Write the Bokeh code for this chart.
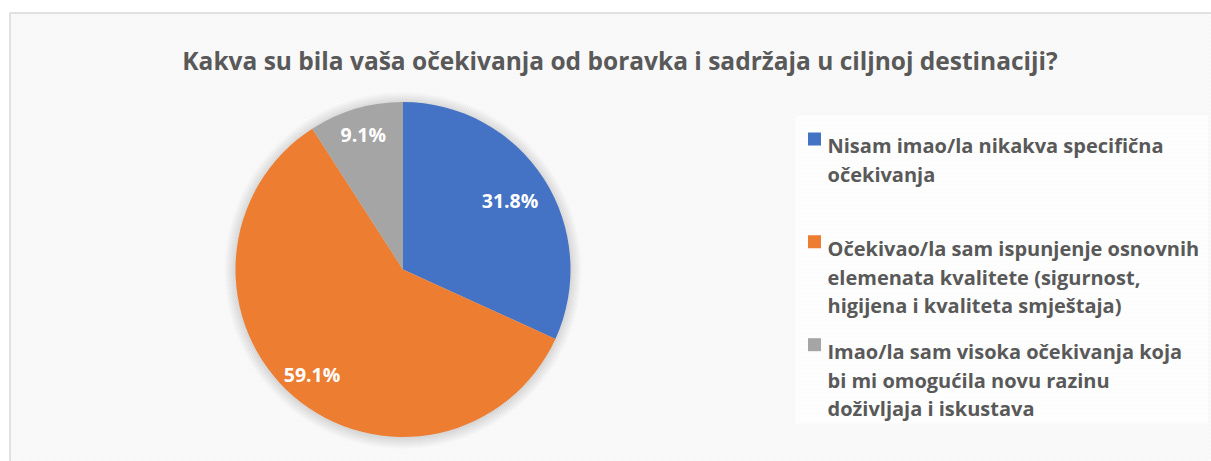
import math
from bokeh.plotting import figure
from bokeh.models import Range1d
from bokeh.core.properties import value
from bokeh.embed import file_html
from bokeh.resources import INLINE

# ---- data ----
title = "Kakva su bila vaša očekivanja od boravka i sadržaja u ciljnoj destinaciji?"
categories = [
    "Nisam imao/la nikakva specifična\nočekivanja",
    "Očekivao/la sam ispunjenje osnovnih\nelemenata kvalitete (sigurnost,\nhigijena i kvaliteta smještaja)",
    "Imao/la sam visoka očekivanja koja\nbi mi omogućila novu razinu\ndoživljaja i iskustava",
]
values = [31.8, 59.1, 9.1]
colors = ["#4472C4", "#ED7D31", "#A5A5A5"]

# ---- layout (page pixel coordinates; y negated) ----
W, H = 1211, 461
FONT = "Open Sans"
TXT = "#595959"

p = figure(width=W, height=H, output_backend="svg", toolbar_location=None,
           x_range=Range1d(0, W), y_range=Range1d(-H, 0),
           min_border=0, border_fill_color="white", background_fill_color="white")
p.axis.visible = False
p.grid.visible = False
p.outline_line_color = None

# hatched chart area with light frame
p.quad(left=[9.5], right=[W + 5], top=[-12.5], bottom=[-(H + 5)],
       fill_color="white", line_color="#d9d9d9", line_width=1.5,
       hatch_pattern="left_diagonal_line", hatch_color="#e4e4e4",
       hatch_alpha=0.32, hatch_scale=4, hatch_weight=1.4)

# title
p.text(x=[619.5], y=[-60], text=[title], text_font=value(FONT),
       text_font_style="bold", text_font_size="24.5px", text_color=TXT,
       text_align="center", text_baseline="alphabetic")

# pie
cx, cy, R = 402.5, -269.0, 167.5
for k in range(1, 12):
    p.circle(x=[cx], y=[cy - 1.0], radius=R + k, fill_color="black",
             fill_alpha=0.011, line_color=None)

total = sum(values)
starts, ends, mids = [], [], []
a = math.pi / 2
for v in values:
    sweep = v / total * 2 * math.pi
    starts.append(a - sweep)
    ends.append(a)
    mids.append(a - sweep / 2)
    a -= sweep
p.wedge(x=cx, y=cy, radius=R, start_angle=starts, end_angle=ends,
        fill_color=colors, line_color=None)

label_r = [0.76, 0.83, 0.84]
lx = [cx + label_r[i] * R * math.cos(m) for i, m in enumerate(mids)]
ly = [cy + label_r[i] * R * math.sin(m) for i, m in enumerate(mids)]
p.text(x=lx, y=ly, text=[f"{v:.1f}%" for v in values], text_font=value(FONT),
       text_font_style="bold", text_font_size="19.5px", text_color="white",
       text_align="center", text_baseline="middle")

# legend panel
p.quad(left=[795], right=[1207.5], top=[-115], bottom=[-423],
       fill_color="white", fill_alpha=0.75, line_color=None)

first_base = [145, 247.7, 350.7]
line_h = 28.8
for i, cat in enumerate(categories):
    lines = cat.split("\n")
    p.rect(x=[814], y=[-(first_base[i] - 6.5)], width=13, height=13,
           fill_color=colors[i], line_color=None)
    p.text(x=[827] * len(lines),
           y=[-(first_base[i] + j * line_h) for j in range(len(lines))],
           text=lines, text_font=value(FONT), text_font_style="bold",
           text_font_size="20px", text_color=TXT,
           text_align="left", text_baseline="alphabetic")

open("out.html", "w").write(file_html(p, INLINE))
